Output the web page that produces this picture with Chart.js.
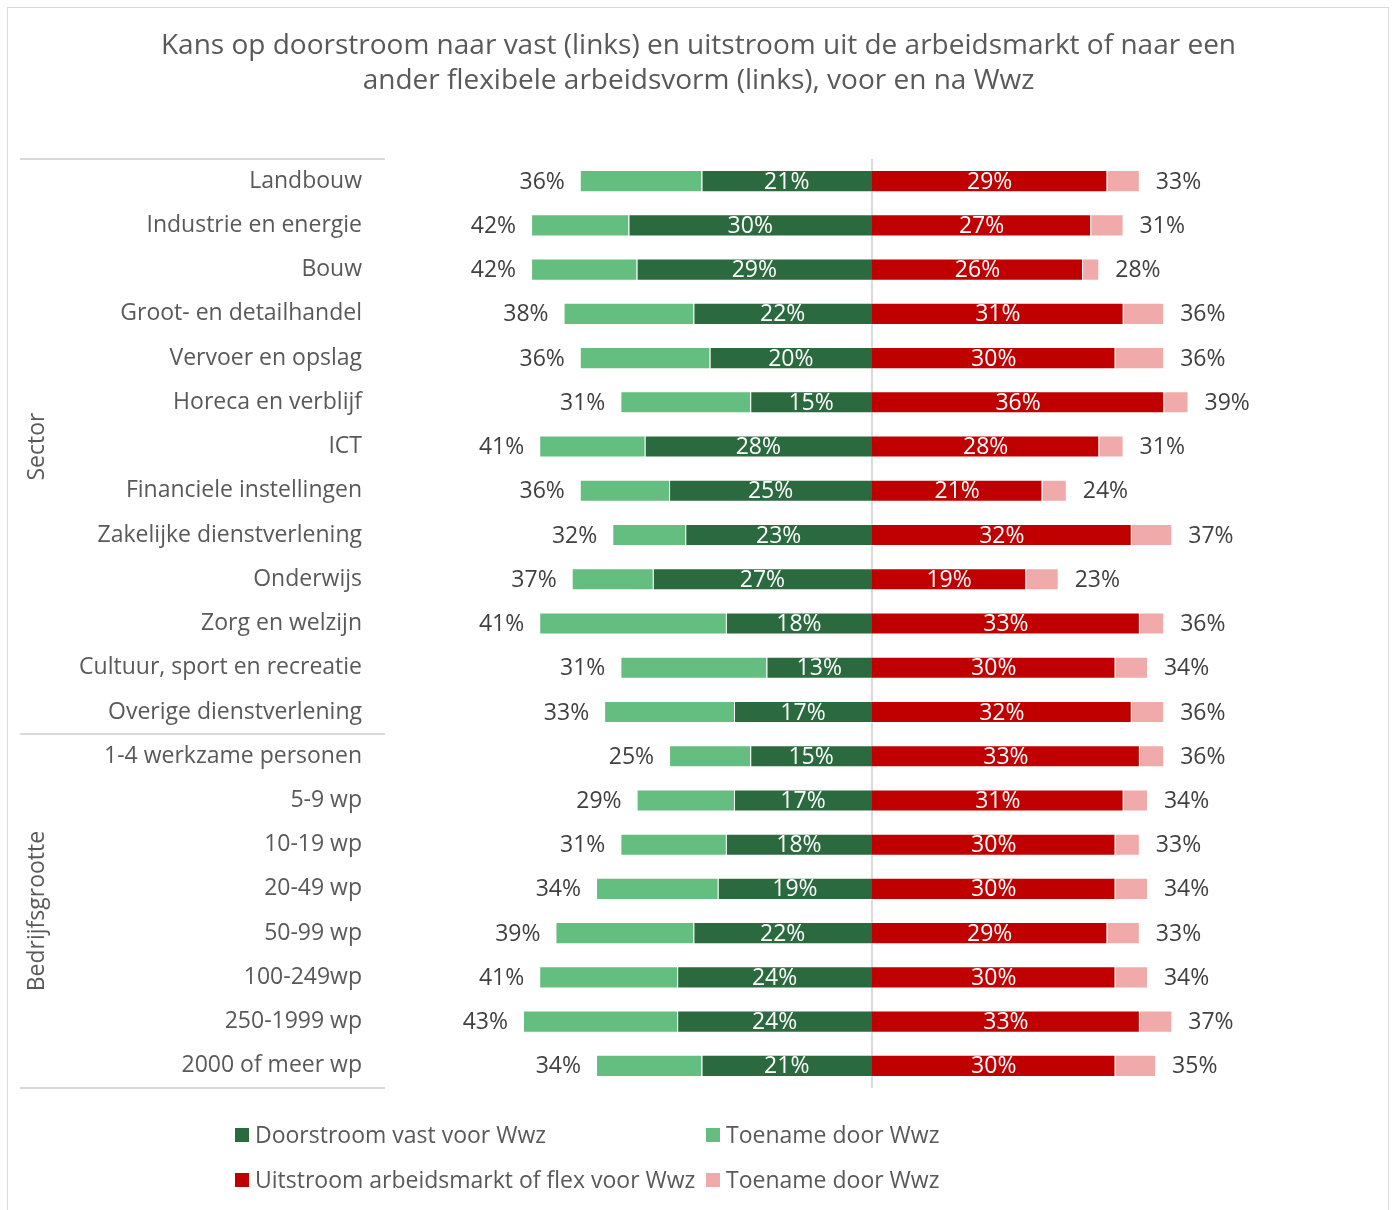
<!DOCTYPE html>
<html>
<head>
<meta charset="utf-8">
<script src="https://cdn.jsdelivr.net/npm/chart.js@4.4.1/dist/chart.umd.min.js"></script>
<style>
  body { margin: 0; background: #fff; overflow: hidden; }
  #wrap { position: relative; width: 1397px; height: 1210px; }
  #frame { position: absolute; left: 7px; top: 7px; width: 1380px; height: 1230px; border: 1px solid #d9d9d9; }
  #chart { position: absolute; left: 0; top: 0; }
</style>
</head>
<body>
<div id="wrap">
  <div id="frame"></div>
  <canvas id="chart" width="1397" height="1210"></canvas>
</div>
<script>
const FONT = '"Open Sans", "Noto Sans", sans-serif';

const categories = [
  'Landbouw', 'Industrie en energie', 'Bouw', 'Groot- en detailhandel',
  'Vervoer en opslag', 'Horeca en verblijf', 'ICT', 'Financiele instellingen',
  'Zakelijke dienstverlening', 'Onderwijs', 'Zorg en welzijn',
  'Cultuur, sport en recreatie', 'Overige dienstverlening',
  '1-4 werkzame personen', '5-9 wp', '10-19 wp', '20-49 wp', '50-99 wp',
  '100-249wp', '250-1999 wp', '2000 of meer wp'
];
const groups = [
  { name: 'Sector', from: 0, to: 12 },
  { name: 'Bedrijfsgrootte', from: 13, to: 20 }
];

// percentages, left side (doorstroom naar vast)
const vastVoor   = [21, 30, 29, 22, 20, 15, 28, 25, 23, 27, 18, 13, 17, 15, 17, 18, 19, 22, 24, 24, 21];
const vastExtra  = [15, 12, 13, 16, 16, 16, 13, 11,  9, 10, 23, 18, 16, 10, 12, 13, 15, 17, 17, 19, 13];
// right side (uitstroom of flex)
const uitVoor    = [29, 27, 26, 31, 30, 36, 28, 21, 32, 19, 33, 30, 32, 33, 31, 30, 30, 29, 30, 33, 30];
const uitExtra   = [ 4,  4,  2,  5,  6,  3,  3,  3,  5,  4,  3,  4,  4,  3,  3,  3,  4,  4,  4,  4,  5];

const colors = ['#2a6a3e', '#63be80', '#c00000', '#f0aaaa'];
const legendNames = ['Doorstroom vast voor Wwz', 'Toename door Wwz', 'Uitstroom arbeidsmarkt of flex voor Wwz', 'Toename door Wwz'];

// value labels: white inside the base segment, grey total outside the bar
const labelPlugin = {
  id: 'barLabels',
  afterDatasetsDraw(chart) {
    const ctx = chart.ctx;
    ctx.save();
    ctx.font = '23px ' + FONT;
    ctx.textBaseline = 'middle';
    [0, 2].forEach(di => {
      const base = chart.getDatasetMeta(di);
      const extra = chart.getDatasetMeta(di + 1);
      const voor = di === 0 ? vastVoor : uitVoor;
      const bij = di === 0 ? vastExtra : uitExtra;
      base.data.forEach((bar, i) => {
        ctx.fillStyle = '#ffffff';
        ctx.textAlign = 'center';
        ctx.fillText(voor[i] + '%', (bar.x + bar.base) / 2, bar.y + 1);
        const end = extra.data[i];
        ctx.fillStyle = '#404040';
        if (di === 0) {
          ctx.textAlign = 'right';
          ctx.fillText((voor[i] + bij[i]) + '%', end.x - 15, end.y + 1);
        } else {
          ctx.textAlign = 'left';
          ctx.fillText((voor[i] + bij[i]) + '%', end.x + 16, end.y + 1);
        }
      });
    });
    ctx.restore();
  }
};

// group lines, group names, centre line and legend
const decoPlugin = {
  id: 'deco',
  beforeDatasetsDraw(chart) {
    const ctx = chart.ctx;
    const area = chart.chartArea;
    const x0 = chart.scales.x.getPixelForValue(0);
    ctx.save();
    ctx.strokeStyle = '#d9d9d9';
    ctx.lineWidth = 2;
    ctx.beginPath();
    ctx.moveTo(x0, area.top);
    ctx.lineTo(x0, area.bottom);
    ctx.stroke();
    ctx.restore();
  },
  afterDraw(chart) {
    const ctx = chart.ctx;
    const y = chart.scales.y;
    const half = (y.getPixelForValue(1) - y.getPixelForValue(0)) / 2;
    ctx.save();
    ctx.strokeStyle = '#d9d9d9';
    ctx.lineWidth = 2;
    const cuts = [y.getPixelForValue(0) - half];
    groups.forEach(g => cuts.push(y.getPixelForValue(g.to) + half));
    cuts.forEach(py => {
      ctx.beginPath();
      ctx.moveTo(20, py);
      ctx.lineTo(chart.chartArea.left, py);
      ctx.stroke();
    });
    ctx.fillStyle = '#595959';
    ctx.font = '23px ' + FONT;
    ctx.textAlign = 'center';
    ctx.textBaseline = 'middle';
    groups.forEach(g => {
      const mid = (y.getPixelForValue(g.from) + y.getPixelForValue(g.to)) / 2;
      ctx.save();
      ctx.translate(37, mid);
      ctx.rotate(-Math.PI / 2);
      ctx.fillText(g.name, 0, 0);
      ctx.restore();
    });
    // legend, two columns
    const spots = [[235, 1135], [706, 1135], [235, 1180], [706, 1180]];
    ctx.textAlign = 'left';
    chart.data.datasets.forEach((ds, i) => {
      const [lx, ly] = spots[i];
      ctx.fillStyle = ds.backgroundColor;
      ctx.fillRect(lx, ly - 7, 14, 14);
      ctx.fillStyle = '#595959';
      ctx.fillText(ds.label, lx + 20, ly + 1);
    });
    ctx.restore();
  }
};

new Chart(document.getElementById('chart'), {
  type: 'bar',
  data: {
    labels: categories,
    datasets: [
      { label: legendNames[0], data: vastVoor.map(v => -v), backgroundColor: colors[0] },
      { label: legendNames[1], data: vastExtra.map(v => -v), backgroundColor: colors[1] },
      { label: legendNames[2], data: uitVoor, backgroundColor: colors[2] },
      { label: legendNames[3], data: uitExtra, backgroundColor: colors[3] }
    ]
  },
  options: {
    indexAxis: 'y',
    responsive: false,
    animation: false,
    datasets: {
      bar: {
        barPercentage: 0.5,
        categoryPercentage: 1,
        borderWidth: 1,
        borderColor: 'rgba(255,255,255,0.45)'
      }
    },
    layout: { padding: { left: 38, right: 38, top: 0, bottom: 122 } },
    plugins: {
      legend: { display: false },
      tooltip: { enabled: false },
      title: {
        display: true,
        text: ['Kans op doorstroom naar vast (links) en uitstroom uit de arbeidsmarkt of naar een',
               'ander flexibele arbeidsvorm (links), voor en na Wwz'],
        color: '#595959',
        font: { family: FONT, size: 28, weight: 'normal', lineHeight: 1.25 },
        padding: { top: 29, bottom: 60 }
      }
    },
    scales: {
      x: { type: 'linear', min: -60, max: 60, stacked: true, display: false },
      y: {
        stacked: true,
        grid: { display: false, drawTicks: false },
        border: { display: false },
        ticks: { color: '#595959', font: { family: FONT, size: 23 }, padding: 23 },
        afterFit(scale) { scale.width = 347; }
      }
    }
  },
  plugins: [labelPlugin, decoPlugin]
});
</script>
</body>
</html>
